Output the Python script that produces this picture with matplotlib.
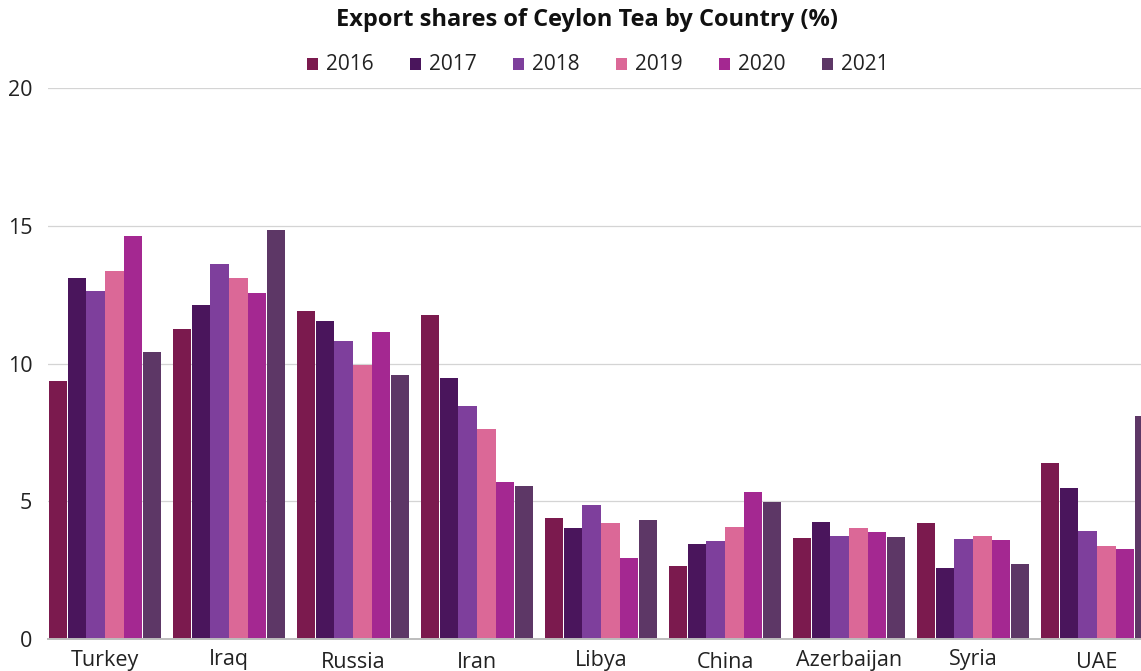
import matplotlib
matplotlib.use("Agg")
import matplotlib.pyplot as plt
from matplotlib.patches import Rectangle
from matplotlib.textpath import TextPath
from matplotlib.font_manager import FontProperties

# Export shares of Ceylon tea (%) by destination country and year
countries = ["Turkey", "Iraq", "Russia", "Iran", "Libya", "China", "Azerbaijan", "Syria", "UAE"]
years = ["2016", "2017", "2018", "2019", "2020", "2021"]
share_2016 = [9.37, 11.26, 11.91, 11.76, 4.39, 2.65, 3.67, 4.21, 6.39]
share_2017 = [13.11, 12.13, 11.55, 9.48, 4.03, 3.45, 4.25, 2.58, 5.48]
share_2018 = [12.64, 13.62, 10.82, 8.46, 4.87, 3.56, 3.74, 3.63, 3.92]
share_2019 = [13.36, 13.11, 9.95, 7.63, 4.21, 4.07, 4.03, 3.74, 3.38]
share_2020 = [14.63, 12.56, 11.15, 5.70, 2.94, 5.34, 3.89, 3.59, 3.27]
share_2021 = [10.42, 14.85, 9.59, 5.56, 4.32, 4.97, 3.70, 2.72, 8.10]
y_ticks = [0, 5, 10, 15, 20]

series = [share_2016, share_2017, share_2018, share_2019, share_2020, share_2021]
colors = ["#7B1A4E", "#4A155C", "#7E3F9C", "#DB6897", "#A42891", "#5D3766"]

FONT = "Open Sans"
TEXT_COLOR = "#222222"
W, H = 1141, 671

fig = plt.figure(figsize=(W / 100, H / 100), dpi=100)
fig.patch.set_facecolor("white")

# plot area (pixels): left edge 48, zero line at y=639, top (20) at y=88
left_px, zero_px, top_px = 48.3, 639, 88
ax = fig.add_axes([left_px / W, (H - zero_px) / H, (W - left_px) / W, (zero_px - top_px) / H])

group_px = 124.0
step = 18.9 / group_px
bar_w = step * 18.2 / 18.9
x0 = -3 * step
ax.set_xlim(x0, x0 + (W - left_px) / group_px)
ax.set_ylim(0, 20)

idx = list(range(len(countries)))
for j, (vals, col) in enumerate(zip(series, colors)):
    pos = [i + (j - 2.5) * step for i in idx]
    ax.bar(pos, vals, width=bar_w, color=col, linewidth=0, zorder=3)

ax.set_axisbelow(True)
ax.yaxis.grid(True, color="#d4d4d4", linewidth=0.9)
ax.xaxis.grid(False)
for s in ["left", "right", "top"]:
    ax.spines[s].set_visible(False)
ax.spines["bottom"].set_color("#bdbdbd")
ax.spines["bottom"].set_linewidth(1.4)
ax.spines["bottom"].set_zorder(4)

ax.set_yticks(y_ticks)
ax.set_yticklabels([str(t) for t in y_ticks], fontfamily=FONT, fontsize=15.5, color=TEXT_COLOR)
ax.tick_params(axis="y", length=0, pad=11.5)
ax.set_xticks(idx)
ax.set_xticklabels([""] * len(idx))
ax.tick_params(axis="x", length=0)

# category labels, each centred on its own glyph ink
fp = FontProperties(family=FONT, size=15.5)
label_center_px = 660
for i, name in enumerate(countries):
    ext = TextPath((0, 0), name, prop=fp).get_extents()
    ink_mid_pt = (ext.y0 + ext.y1) / 2.0
    ax.annotate(name, xy=(i, 0), xycoords=("data", "axes fraction"),
                xytext=(0, -(label_center_px - zero_px) * 0.72 - ink_mid_pt),
                textcoords="offset points", ha="center", va="baseline",
                fontfamily=FONT, fontsize=15.5, color=TEXT_COLOR, annotation_clip=False)

# title
fig.text(587.5 / W, 1 - 20 / H, "Export shares of Ceylon Tea by Country (%)",
         ha="center", va="center", fontfamily=FONT, fontweight="bold",
         fontsize=17, color="#111111")

# legend row
leg_y = 64
for k, (yr, col) in enumerate(zip(years, colors)):
    mx = 307 + 103 * k
    fig.patches.append(Rectangle((mx / W, 1 - (leg_y + 5.5) / H), 11 / W, 11 / H,
                                 transform=fig.transFigure, facecolor=col,
                                 edgecolor="none", figure=fig))
    fig.text((mx + 19) / W, 1 - leg_y / H, yr, ha="left", va="center",
             fontfamily=FONT, fontsize=15, color=TEXT_COLOR)

fig.savefig("out.png", dpi=100, facecolor="white")
